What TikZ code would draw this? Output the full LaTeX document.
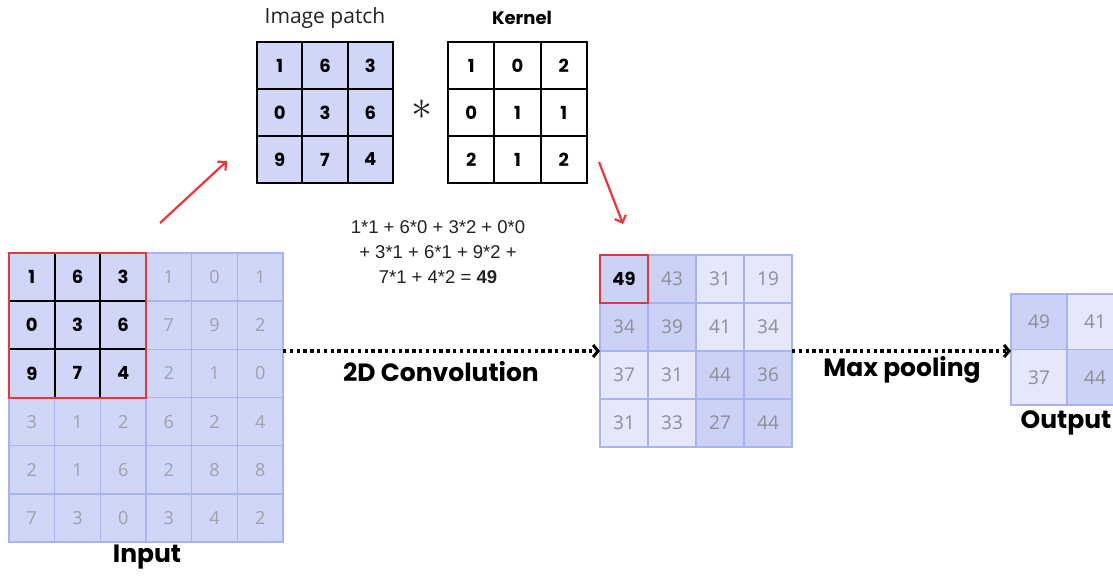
\documentclass[tikz,border=0pt]{standalone}
\usepackage{fontspec}
\setmainfont{Poppins}
\newfontfamily\formfont{Liberation Sans}
\newfontfamily\osfont{Open Sans}
\usetikzlibrary{arrows.meta}
\definecolor{cellfill}{HTML}{D0D6F7}
\definecolor{cellfilld}{HTML}{CCD2F6}
\definecolor{cellfilll}{HTML}{E5E8FB}
\definecolor{gridline}{HTML}{A8B3F4}
\definecolor{numgray}{HTML}{A0A0A6}
\definecolor{numgrayd}{HTML}{8E8E96}
\definecolor{redbox}{HTML}{E0383C}
\definecolor{redarrow}{HTML}{F0343C}
\definecolor{txt}{HTML}{222222}
\begin{document}
\begin{tikzpicture}[x=1pt,y=-1pt,
  cellbase/.style={inner sep=0pt, outer sep=0pt, anchor=north west},
  gcell/.style={cellbase, fill=cellfill, draw=gridline, line width=1.5pt},
  bcell/.style={cellbase, draw=black, line width=2pt},
  boldnum/.style={font=\fontsize{18}{18}\selectfont\bfseries, text=black},
  graynum/.style={font=\osfont\fontsize{18}{18}\selectfont, text=numgray},
  graynumc/.style={font=\osfont\fontsize{19}{19}\selectfont, text=numgrayd},
  biglabel/.style={font=\fontsize{25}{25}\selectfont\bfseries, text=black},
  redarr/.style={draw=redarrow, line width=2.2pt, -{Straight Barb[length=6pt,width=12pt,line width=2.2pt]}},
  dotarr/.style={draw=black, line width=3.5pt, dash pattern=on 3.4pt off 3.4pt,
     -{Straight Barb[length=5pt,width=12pt,line width=3pt]}}
]
\useasboundingbox (0,0) rectangle (1113,577);
\clip (0,0) rectangle (1113,577);
\fill[white] (0,0) rectangle (1113,577);

% ---------- Input grid ----------
\def\icw{45.67}\def\ich{48.17}
\foreach \v [count=\k from 0] in {1,6,3,1,0,1, 0,3,6,7,9,2, 9,7,4,2,1,0, 3,1,2,6,2,4, 2,1,6,2,8,8, 7,3,0,3,4,2}{
  \pgfmathtruncatemacro{\r}{int(\k/6)}
  \pgfmathtruncatemacro{\c}{mod(\k,6)}
  \node[gcell, minimum width=\icw pt, minimum height=\ich pt] (in-\r-\c) at ({9+\c*\icw},{253+\r*\ich}) {};
}
\foreach \v [count=\k from 0] in {1,6,3,1,0,1, 0,3,6,7,9,2, 9,7,4,2,1,0, 3,1,2,6,2,4, 2,1,6,2,8,8, 7,3,0,3,4,2}{
  \pgfmathtruncatemacro{\r}{int(\k/6)}
  \pgfmathtruncatemacro{\c}{mod(\k,6)}
  \pgfmathtruncatemacro{\hot}{(\r<3)&&(\c<3)}
  \ifnum\hot=1
    \node[bcell, minimum width=\icw pt, minimum height=\ich pt] (inb-\r-\c) at ({9+\c*\icw},{253+\r*\ich}) {};
    \node[boldnum] (inv-\r-\c) at (in-\r-\c.center) {\v};
  \else
    \node[graynum] (inv-\r-\c) at (in-\r-\c.center) {\v};
  \fi
}
\draw[redbox, line width=2pt] (in-0-0.north west) rectangle (in-2-2.south east);
\node[biglabel] (inlabel) at (147,557) {Input};

% ---------- Image patch ----------
\def\pcw{45.33}\def\pch{47}
\foreach \v [count=\k from 0] in {1,6,3,0,3,6,9,7,4}{
  \pgfmathtruncatemacro{\r}{int(\k/3)}
  \pgfmathtruncatemacro{\c}{mod(\k,3)}
  \node[cellbase, fill=cellfill, draw=black, line width=2pt, minimum width=\pcw pt, minimum height=\pch pt] (pt-\r-\c) at ({257+\c*\pcw},{42+\r*\pch}) {};
  \node[boldnum] at (pt-\r-\c.center) {\v};
}
\node[font=\osfont\fontsize{21}{21}\selectfont, text=txt] (ptlabel) at (325,18) {Image patch};

% ---------- Kernel ----------
\def\kcw{46.33}
\foreach \v [count=\k from 0] in {1,0,2,0,1,1,2,1,2}{
  \pgfmathtruncatemacro{\r}{int(\k/3)}
  \pgfmathtruncatemacro{\c}{mod(\k,3)}
  \node[cellbase, fill=white, draw=black, line width=2pt, minimum width=\kcw pt, minimum height=\pch pt] (kn-\r-\c) at ({448+\c*\kcw},{42+\r*\pch}) {};
  \node[boldnum] at (kn-\r-\c.center) {\v};
}
\node[font=\fontsize{18}{18}\selectfont\bfseries, text=black] (knlabel) at (522,18) {Kernel};
\node[text=txt] (star) at (422,110) {\scalebox{4.2}{$\ast$}};

% ---------- Formula ----------
\node[font=\formfont\fontsize{18.5}{25}\selectfont, text=txt, align=center] (formula) at (438,252)
  {1*1 + 6*0 + 3*2 + 0*0\\+ 3*1 + 6*1 + 9*2 +\\7*1 + 4*2 = \textbf{49}};

% ---------- Convolution output ----------
\def\ccw{48}
\foreach \v [count=\k from 0] in {49,43,31,19, 34,39,41,34, 37,31,44,36, 31,33,27,44}{
  \pgfmathtruncatemacro{\r}{int(\k/4)}
  \pgfmathtruncatemacro{\c}{mod(\k,4)}
  \pgfmathtruncatemacro{\dk}{((\r<2)&&(\c<2))||((\r>1)&&(\c>1))}
  \ifnum\dk=1\def\cf{cellfilld}\else\def\cf{cellfilll}\fi
  \node[gcell, fill=\cf, minimum width=\ccw pt, minimum height=\ccw pt] (cv-\r-\c) at ({600+\c*\ccw},{255+\r*\ccw}) {};
  \ifnum\k=0
    \node[boldnum] at (cv-\r-\c.center) {\v};
  \else
    \node[graynumc] at (cv-\r-\c.center) {\v};
  \fi
}
\draw[redbox, line width=2pt] (cv-0-0.north west) rectangle (cv-0-0.south east);

% ---------- Pooled output ----------
\foreach \v [count=\k from 0] in {49,41,37,44}{
  \pgfmathtruncatemacro{\r}{int(\k/2)}
  \pgfmathtruncatemacro{\c}{mod(\k,2)}
  \pgfmathtruncatemacro{\dk}{(\r==\c)}
  \ifnum\dk=1\def\cf{cellfilld}\else\def\cf{cellfilll}\fi
  \node[gcell, fill=\cf, minimum width=56pt, minimum height=55.5pt] (out-\r-\c) at ({1011+\c*56},{294+\r*55.5}) {};
  \node[graynumc] at (out-\r-\c.center) {\v};
}
\node[biglabel] (outlabel) at (1066,423) {Output};

% ---------- Arrows ----------
\draw[dotarr] (in-1-5.south east |- cv-1-0.south west) -- (cv-1-0.south west);
\node[biglabel] (convlabel) at (441,372) {2D Convolution};
\draw[dotarr] (cv-1-3.south east) -- (out-0-0.south west |- cv-1-3.south east);
\node[biglabel] (poollabel) at (902,370) {Max pooling};

\coordinate (ra1s) at (160,223);
\coordinate (ra1e) at (227,161);
\draw[redarr] (ra1s) -- (ra1e);
\coordinate (ra2s) at (599,162);
\coordinate (ra2e) at (623,224);
\draw[redarr] (ra2s) -- (ra2e);
\end{tikzpicture}
\end{document}
